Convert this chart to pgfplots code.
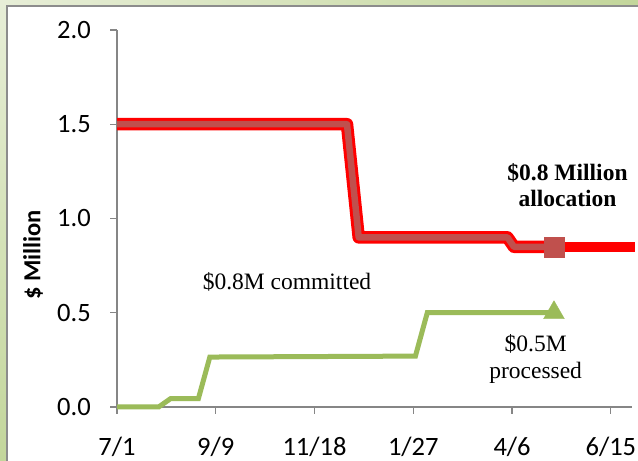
\documentclass[border=0pt]{standalone}
\usepackage{pgfplots}
\pgfplotsset{compat=1.18}
\usepackage{fontspec}
\setmainfont{Liberation Serif}
\newfontfamily\calibri{Carlito}
\definecolor{axgray}{HTML}{868686}
\definecolor{xlred}{HTML}{C0504D}
\definecolor{xlgreen}{HTML}{9BBB59}
\definecolor{bglight}{HTML}{E7EED7}
\definecolor{bgdark}{HTML}{C3D69B}
\definecolor{framegray}{HTML}{8C8C8C}
\begin{document}
\begin{tikzpicture}[x=1bp,y=1bp]
\useasboundingbox (0,0) rectangle (638,461);
\shade[top color=bglight, bottom color=bgdark] (0,0) rectangle (8,461);
\shade[left color=bglight, right color=bgdark] (0,455) rectangle (638,461);
\fill[white] (7,0) rectangle (638,455);
\draw[framegray, line width=1.6bp] (7,0) -- (7,455) -- (638,455);
\begin{axis}[
  at={(117bp,54bp)}, anchor=south west,
  scale only axis, width=515bp, height=377bp,
  xmin=0, xmax=365, ymin=0, ymax=2,
  axis x line*=bottom, axis y line*=left,
  axis line style={axgray, line width=1.2bp},
  every tick/.style={axgray, line width=1.2bp},
  tick align=outside, major tick length=7bp,
  xtick={0,70,140,210,280,350},
  xticklabels={7/1,9/9,11/18,1/27,4/6,6/15},
  ytick={0,0.5,1,1.5,2},
  yticklabels={0.0,0.5,1.0,1.5,2.0},
  ticklabel style={font=\calibri\fontsize{26.5bp}{31bp}\selectfont, text=black},
  xticklabel style={anchor=base, inner sep=0.5bp, yshift=-41.5bp},
  yticklabel style={anchor=east, inner sep=0pt, xshift=-19bp},
  ylabel={\$ Million},
  ylabel style={font=\calibri\bfseries\fontsize{24.5bp}{28bp}\selectfont, at={(axis description cs:-0.163,0.403)}, anchor=center},
  clip=false,
]
% allocation glow (bright red)
\addplot[red, line width=12.5bp, line join=round] coordinates {
 (0,1.5) (163,1.5) (171.3,0.9) (276.7,0.9) (281.3,0.85) (309.7,0.85)};
\addplot[red, line width=10bp] coordinates {(309.7,0.85) (367,0.85)};
% committed
\addplot[xlred, line width=6.5bp, line join=round] coordinates {
 (0,1.5) (163,1.5) (171.3,0.9) (276.7,0.9) (281.3,0.85) (309.7,0.85)};
\addplot[only marks, mark=square*, mark size=10bp, xlred, mark options={draw=xlred, fill=xlred}] coordinates {(309.7,0.85)};
% processed
\addplot[xlgreen, line width=5bp] coordinates {
 (0,0) (29.5,0) (38.1,0.045) (57.7,0.045) (65.8,0.265) (211.5,0.27) (219.9,0.5) (309.7,0.5)};
\addplot[only marks, mark=triangle*, mark size=12bp, xlgreen, mark options={draw=xlgreen, fill=xlgreen}] coordinates {(309.7,0.5)};
\node[font=\fontsize{23.5bp}{27bp}\selectfont] at (axis cs:120.5,0.665) {\$0.8M committed};
\node[font=\bfseries\fontsize{23.5bp}{26.5bp}\selectfont, align=center] at (axis cs:319.3,1.178) {\$0.8 Million\\allocation};
\node[font=\fontsize{23.5bp}{26.5bp}\selectfont, align=center] at (axis cs:296.7,0.255) {\$0.5M\\processed};
\end{axis}
\end{tikzpicture}
\end{document}
